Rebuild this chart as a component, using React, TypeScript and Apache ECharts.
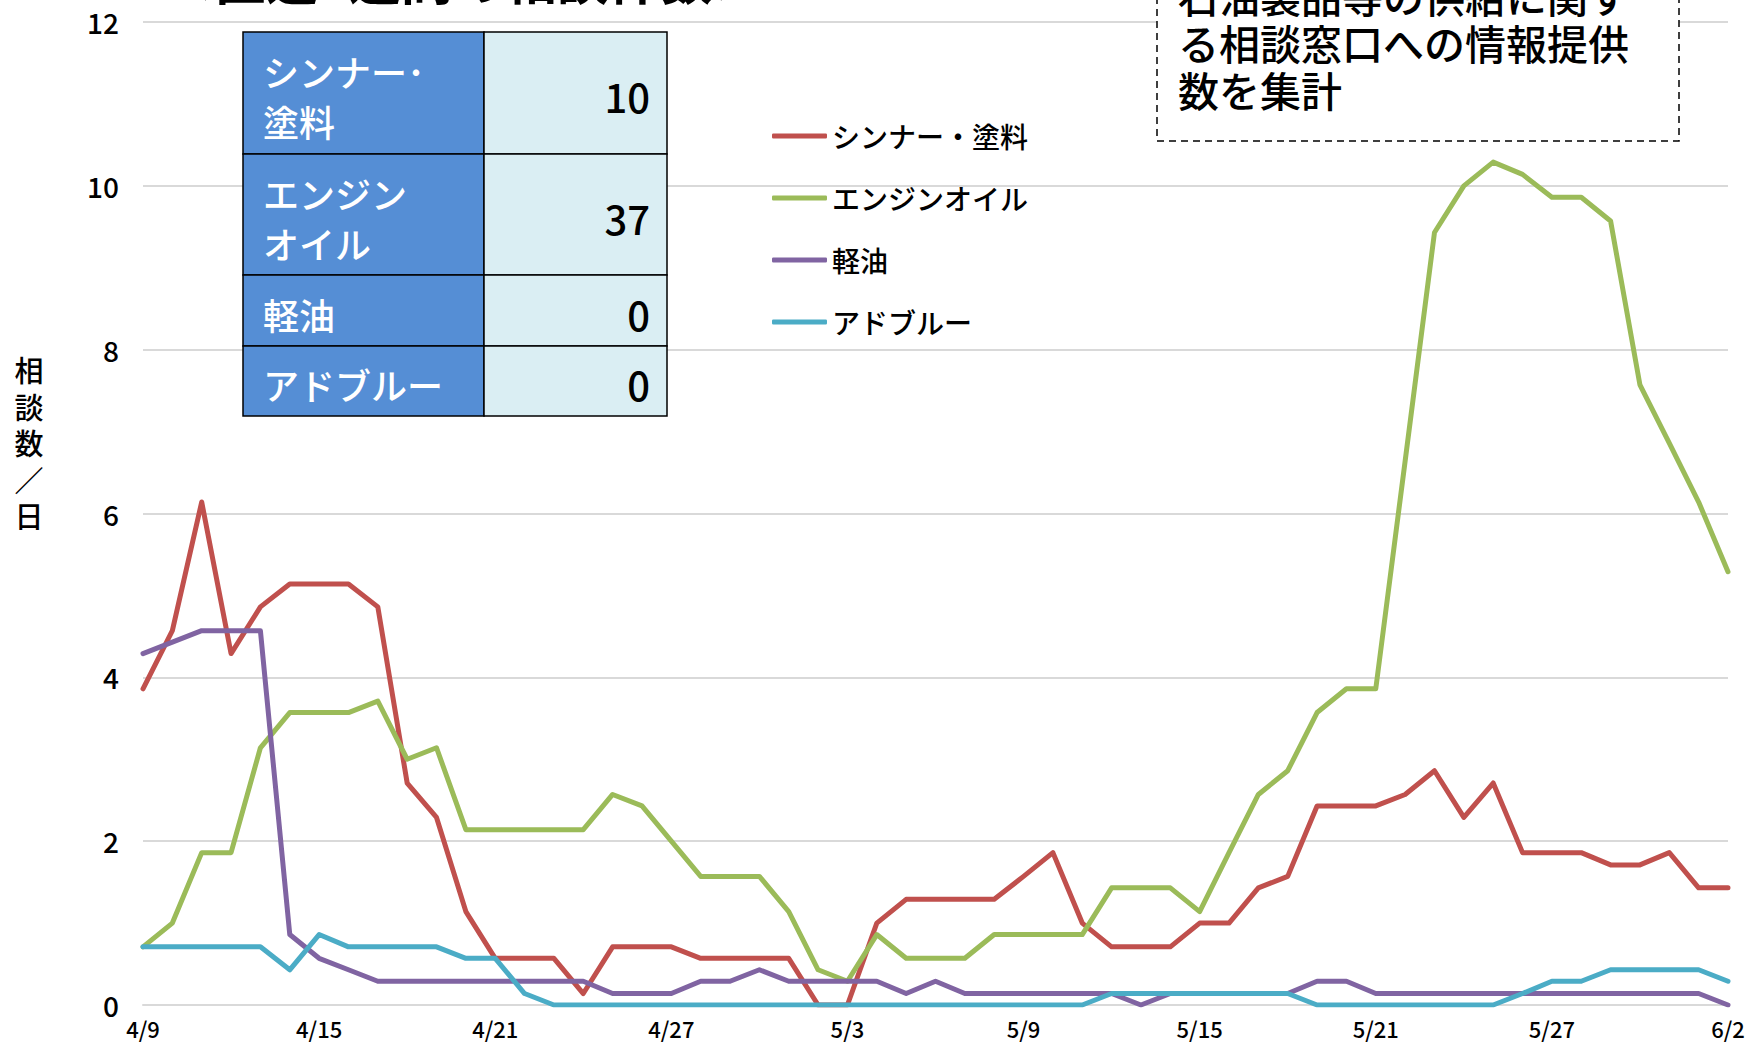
import React, { useEffect, useRef } from "react";
import * as echarts from "echarts";

const dates = [
  "4/9", "4/10", "4/11", "4/12", "4/13", "4/14", "4/15", "4/16", "4/17", "4/18", "4/19",
  "4/20", "4/21", "4/22", "4/23", "4/24", "4/25", "4/26", "4/27", "4/28", "4/29", "4/30",
  "5/1", "5/2", "5/3", "5/4", "5/5", "5/6", "5/7", "5/8", "5/9", "5/10", "5/11", "5/12",
  "5/13", "5/14", "5/15", "5/16", "5/17", "5/18", "5/19", "5/20", "5/21", "5/22", "5/23",
  "5/24", "5/25", "5/26", "5/27", "5/28", "5/29", "5/30", "5/31", "6/1", "6/2",
];

const seriesNames = ["シンナー・塗料", "エンジンオイル", "軽油", "アドブルー"];
const seriesColors = ["#C0504D", "#9BBB59", "#8064A2", "#4BACC6"];

const thinner = [
  3.86, 4.57, 6.14, 4.29, 4.86, 5.14, 5.14, 5.14, 4.86, 2.71, 2.29,
  1.14, 0.57, 0.57, 0.57, 0.14, 0.71, 0.71, 0.71, 0.57, 0.57, 0.57,
  0.57, 0, 0, 1.0, 1.29, 1.29, 1.29, 1.29, 1.57, 1.86, 1.0, 0.71,
  0.71, 0.71, 1.0, 1.0, 1.43, 1.57, 2.43, 2.43, 2.43, 2.57, 2.86,
  2.29, 2.71, 1.86, 1.86, 1.86, 1.71, 1.71, 1.86, 1.43, 1.43,
];
const engineOil = [
  0.71, 1.0, 1.86, 1.86, 3.14, 3.57, 3.57, 3.57, 3.71, 3.0, 3.14,
  2.14, 2.14, 2.14, 2.14, 2.14, 2.57, 2.43, 2.0, 1.57, 1.57, 1.57,
  1.14, 0.43, 0.29, 0.86, 0.57, 0.57, 0.57, 0.86, 0.86, 0.86, 0.86, 1.43,
  1.43, 1.43, 1.14, 1.86, 2.57, 2.86, 3.57, 3.86, 3.86, 6.64, 9.43,
  10.0, 10.29, 10.14, 9.86, 9.86, 9.57, 7.57, 6.86, 6.14, 5.29,
];
const diesel = [
  4.29, 4.43, 4.57, 4.57, 4.57, 0.86, 0.57, 0.43, 0.29, 0.29, 0.29,
  0.29, 0.29, 0.29, 0.29, 0.29, 0.14, 0.14, 0.14, 0.29, 0.29, 0.43,
  0.29, 0.29, 0.29, 0.29, 0.14, 0.29, 0.14, 0.14, 0.14, 0.14, 0.14, 0.14,
  0, 0.14, 0.14, 0.14, 0.14, 0.14, 0.29, 0.29, 0.14, 0.14, 0.14,
  0.14, 0.14, 0.14, 0.14, 0.14, 0.14, 0.14, 0.14, 0.14, 0,
];
const adblue = [
  0.71, 0.71, 0.71, 0.71, 0.71, 0.43, 0.86, 0.71, 0.71, 0.71, 0.71,
  0.57, 0.57, 0.14, 0, 0, 0, 0, 0, 0, 0, 0,
  0, 0, 0, 0, 0, 0, 0, 0, 0, 0, 0, 0.14,
  0.14, 0.14, 0.14, 0.14, 0.14, 0.14, 0, 0, 0, 0, 0,
  0, 0, 0.14, 0.29, 0.29, 0.43, 0.43, 0.43, 0.43, 0.29,
];

const yTicks = { min: 0, max: 12, interval: 2 };

const tableLabels = ["シンナー･\n塗料", "エンジン\nオイル", "軽油", "アドブルー"];
const tableCounts = [10, 37, 0, 0];

const titleText = "＜直近1週間の相談件数＞";
const noteLines = ["石油製品等の供給に関す", "る相談窓口への情報提供", "数を集計"];
const yAxisNameChars = ["相", "談", "数", "／", "日"];

const FONT = '"Noto Sans CJK JP", "Noto Sans", sans-serif';

export default function App() {
  const ref = useRef<HTMLDivElement>(null);

  useEffect(() => {
    if (!ref.current) return;
    const chart = echarts.init(ref.current, undefined, { renderer: "svg" });

    const allData = [thinner, engineOil, diesel, adblue];

    // table layout
    const tblLeft = 243;
    const tblSplit = 484;
    const tblRight = 667;
    const rowEdges = [32, 154, 275, 346, 416];
    const tableEls: any[] = [];
    tableLabels.forEach((lab, i) => {
      const y0 = rowEdges[i];
      const h = rowEdges[i + 1] - rowEdges[i];
      tableEls.push({
        type: "rect",
        shape: { x: tblLeft, y: y0, width: tblSplit - tblLeft, height: h },
        style: { fill: "#558ED5", stroke: "#000", lineWidth: 1.5 },
        z: 10,
      });
      tableEls.push({
        type: "rect",
        shape: { x: tblSplit, y: y0, width: tblRight - tblSplit, height: h },
        style: { fill: "#DAEEF3", stroke: "#000", lineWidth: 1.5 },
        z: 10,
      });
      tableEls.push({
        type: "text",
        x: 263,
        y: y0 + h / 2 + 3,
        style: {
          text: lab,
          font: `500 36px ${FONT}`,
          fill: "#fff",
          lineHeight: 50,
          verticalAlign: "middle",
          align: "left",
        },
        z: 11,
      });
      tableEls.push({
        type: "text",
        x: 650,
        y: y0 + h / 2 + 3,
        style: {
          text: String(tableCounts[i]),
          font: `500 40px ${FONT}`,
          fill: "#000",
          verticalAlign: "middle",
          align: "right",
        },
        z: 11,
      });
    });

    const noteEls = noteLines.map((t, i) => ({
      type: "text",
      x: 1178,
      y: -29 + i * 47,
      style: {
        text: t,
        font: `500 41px ${FONT}`,
        fill: "#000",
        lineHeight: 47,
        verticalAlign: "top",
      },
      z: 11,
    }));

    const yNameEls = yAxisNameChars.map((c, i) => ({
      type: "text",
      x: 29,
      y: 369 + i * 36.5,
      style: {
        text: c,
        font: `500 29px ${FONT}`,
        fill: "#000",
        lineHeight: 34,
        align: "center",
        verticalAlign: "middle",
      },
      z: 10,
    }));

    const option: any = {
      animation: false,
      backgroundColor: "#fff",
      grid: { left: 143, right: 20, top: 22, bottom: 38, containLabel: false },
      legend: {
        orient: "vertical",
        left: 767,
        top: 116,
        icon: "roundRect",
        itemWidth: 55,
        itemHeight: 5,
        itemGap: 32,
        data: seriesNames,
        textStyle: {
          fontSize: 28,
          lineHeight: 30,
          color: "#000",
          fontFamily: FONT,
          fontWeight: 500,
        },
      },
      xAxis: {
        type: "category",
        data: dates,
        boundaryGap: false,
        axisLine: { lineStyle: { color: "#D9D9D9", width: 2 } },
        axisTick: { show: false },
        axisLabel: {
          interval: 5,
          color: "#000",
          fontSize: 22,
          lineHeight: 22,
          fontFamily: FONT,
          fontWeight: 500,
          margin: 12,
        },
        splitLine: { show: false },
      },
      yAxis: {
        type: "value",
        min: yTicks.min,
        max: yTicks.max,
        interval: yTicks.interval,
        axisLine: { show: false },
        axisTick: { show: false },
        axisLabel: {
          color: "#000",
          fontSize: 28,
          fontFamily: FONT,
          fontWeight: 500,
          margin: 24,
        },
        splitLine: { lineStyle: { color: "#D9D9D9", width: 2 } },
      },
      series: seriesNames.map((name, i) => ({
        name,
        type: "line",
        data: allData[i],
        showSymbol: false,
        symbol: "none",
        color: seriesColors[i],
        lineStyle: { width: 5, color: seriesColors[i], cap: "round", join: "round" },
      })),
      graphic: [
        {
          type: "text",
          x: 162,
          y: -49,
          style: { text: titleText, font: `bold 52px ${FONT}`, fill: "#000" },
          z: 10,
        },
        {
          type: "rect",
          shape: { x: 1157, y: -10, width: 522, height: 151 },
          style: { fill: "#fff", stroke: "#000", lineWidth: 1.5, lineDash: [7, 5] },
          z: 10,
        },
        ...noteEls,
        ...yNameEls,
        ...tableEls,
      ],
    };

    chart.setOption(option);
    return () => chart.dispose();
  }, []);

  return (
    <div
      ref={ref}
      style={{ position: "absolute", left: 0, top: 0, width: 1748, height: 1043 }}
    />
  );
}
